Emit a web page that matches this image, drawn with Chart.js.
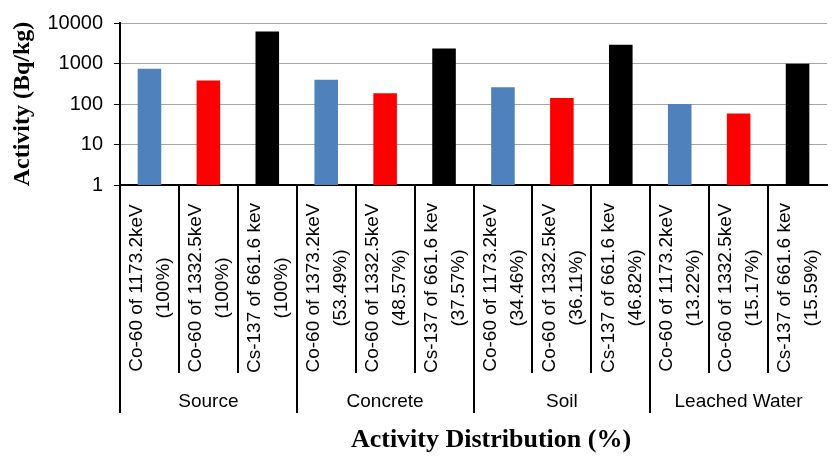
<!DOCTYPE html>
<html>
<head>
<meta charset="utf-8">
<script src="https://cdn.jsdelivr.net/npm/chart.js@4/dist/chart.umd.min.js"></script>
<style>
  body { margin: 0; background: #fff; }
  #wrap { width: 835px; height: 465px; }
</style>
</head>
<body>
<div id="wrap"><canvas id="activityChart"></canvas></div>
<script>
// data
const groups = ['Source', 'Concrete', 'Soil', 'Leached Water'];
const isotopes = ['Co-60 of 1173.2keV', 'Co-60 of 1332.5keV', 'Cs-137 of 661.6 kev'];
const concreteIsotopes = ['Co-60 of 1373.2keV', 'Co-60 of 1332.5keV', 'Cs-137 of 661.6 kev'];
const percents = [
    ['100%', '100%', '100%'],
    ['53.49%', '48.57%', '37.57%'],
    ['34.46%', '36.11%', '46.82%'],
    ['13.22%', '15.17%', '15.59%']
];
const activity = [740, 380, 6150, 395, 185, 2350, 260, 140, 2900, 100, 58, 980];
const yTicks = [1, 10, 100, 1000, 10000];
const isotopeColors = ['#4f81bd', '#ff0000', '#000000'];

// build two-line labels for every bar
const labels = [];
groups.forEach((g, gi) => {
    const names = gi === 1 ? concreteIsotopes : isotopes;
    names.forEach((n, k) => labels.push([n, '(' + percents[gi][k] + ')']));
});
const barColors = labels.map((l, i) => isotopeColors[i % isotopes.length]);

// draws rotated category labels, the group row and the separators
const groupAxis = {
    id: 'groupAxis',
    afterDraw(chart) {
        const ctx = chart.ctx;
        const x = chart.scales.x;
        const area = chart.chartArea;
        const half = (x.getPixelForValue(1) - x.getPixelForValue(0)) / 2;
        ctx.save();
        ctx.strokeStyle = '#000';
        ctx.lineWidth = 2;
        for (let i = 0; i < labels.length; i++) {
            const left = Math.round(x.getPixelForValue(i) - half);
            const end = i % isotopes.length === 0 ? 413 : 373;
            ctx.beginPath();
            ctx.moveTo(left, area.bottom);
            ctx.lineTo(left, end);
            ctx.stroke();
        }

        ctx.fillStyle = '#000';
        ctx.font = '19px "Liberation Sans", sans-serif';
        ctx.textAlign = 'center';
        ctx.textBaseline = 'middle';
        labels.forEach((lines, i) => {
            ctx.save();
            ctx.translate(x.getPixelForValue(i) + 1, 288);
            ctx.rotate(-Math.PI / 2);
            lines.forEach((t, k) => ctx.fillText(t, 0, (k - 0.5) * 27));
            ctx.restore();
        });

        groups.forEach((g, gi) => {
            const a = x.getPixelForValue(gi * 3);
            const b = x.getPixelForValue(gi * 3 + 2);
            ctx.fillText(g, (a + b) / 2, 402);
        });

        ctx.font = 'bold 26px "Liberation Serif", serif';
        ctx.fillText('Activity Distribution (%)', 491, 440);
        ctx.restore();
    }
};

new Chart(document.getElementById('activityChart'), {
    type: 'bar',
    data: {
        labels: labels,
        datasets: [{
            data: activity,
            backgroundColor: barColors,
            categoryPercentage: 1,
            barPercentage: 0.4
        }]
    },
    options: {
        responsive: true,
        maintainAspectRatio: false,
        animation: false,
        layout: { padding: { top: 18, right: 8, left: 0, bottom: 0 } },
        plugins: {
            legend: { display: false },
            tooltip: { enabled: false }
        },
        scales: {
            x: {
                grid: { display: false },
                border: { color: '#000', width: 2 },
                ticks: { display: false },
                afterFit: s => { s.height = 280; }
            },
            y: {
                type: 'logarithmic',
                min: 1,
                max: 10000,
                afterBuildTicks: s => { s.ticks = yTicks.map(v => ({ value: v })); },
                afterFit: s => { s.width = 120; },
                grid: { color: '#a6a6a6', tickLength: 6, tickColor: '#000' },
                border: { color: '#000', width: 2 },
                ticks: {
                    color: '#000',
                    padding: 11,
                    font: { family: '"Liberation Sans", sans-serif', size: 20 },
                    callback: v => String(v)
                },
                title: {
                    display: true,
                    text: 'Activity (Bq/kg)',
                    color: '#000',
                    font: { family: '"Liberation Serif", serif', size: 24, weight: 'bold' },
                    padding: { top: 8, bottom: 0 }
                }
            }
        }
    },
    plugins: [groupAxis]
});
</script>
</body>
</html>
